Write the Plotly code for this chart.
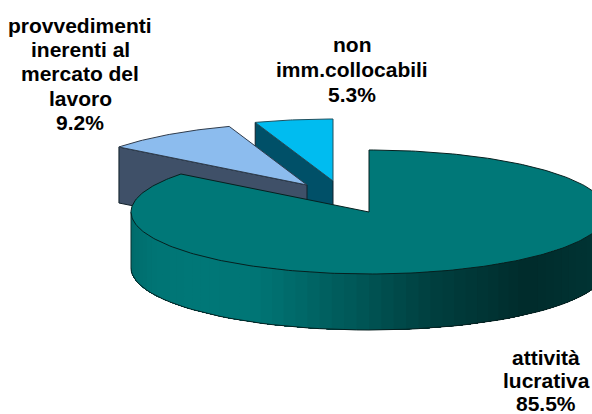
import numpy as np
import plotly.graph_objects as go

# Data
categories = [["attività", "lucrativa"],
              ["provvedimenti", "inerenti al", "mercato del", "lavoro"],
              ["non", "imm.collocabili"]]
shares = [85.5, 9.2, 5.3]

# Styling
top_colors = ["#007878", "#8cbcee", "#00bcf0"]
wall_colors = ["#007878", "#3f5068", "#005068"]
edge = "#10202a"
W, H = 592, 414
RX, RY, DEPTH = 238, 62, 56
apex = [(369, 212), (307, 185), (333, 181)]
label_x = [546, 80, 352]
label_y = [357, 25, 44]
label_step = [23.4, 24.4, 25]
FONT = 21

stops_pos = [0.0, 0.04, 0.13, 0.27, 0.47, 0.65, 0.86, 1.0]
stops_val = [(0, 108, 108), (0, 116, 116), (0, 120, 120), (0, 118, 118),
             (0, 90, 90), (0, 64, 64), (0, 44, 44), (0, 52, 52)]

fig = go.Figure()


def poly(xs, ys, fill, line=edge, width=1):
    fig.add_trace(go.Scatter(x=list(xs), y=list(ys), mode="lines", fill="toself",
                             fillcolor=fill, line=dict(color=line, width=width),
                             hoverinfo="skip", showlegend=False))


# Angles clockwise from 12 o'clock, from the shares
ends = np.cumsum(shares) / sum(shares) * 2 * np.pi
starts = np.concatenate([[0], ends[:-1]])


def arc(i, a0, a1, n=120):
    t = np.linspace(a0, a1, n)
    return apex[i][0] + RX * np.sin(t), apex[i][1] - RY * np.cos(t)


def radial(i, a):
    return apex[i][0] + RX * np.sin(a), apex[i][1] - RY * np.cos(a)


# Slice 3: cut wall then top
x0, y0 = radial(2, starts[2])
poly([x0, apex[2][0], apex[2][0], x0, x0],
     [y0, apex[2][1], apex[2][1] + DEPTH, y0 + DEPTH, y0], wall_colors[2])
ax, ay = arc(2, starts[2], ends[2], 40)
poly([apex[2][0], *ax, apex[2][0]], [apex[2][1], *ay, apex[2][1]], top_colors[2], "#20505f")

# Slice 2: cut wall then top
x0, y0 = radial(1, starts[1])
poly([x0, apex[1][0], apex[1][0], x0, x0],
     [y0, apex[1][1], apex[1][1] + DEPTH, y0 + DEPTH, y0], wall_colors[1])
ax, ay = arc(1, starts[1], ends[1], 40)
poly([apex[1][0], *ax, apex[1][0]], [apex[1][1], *ay, apex[1][1]], top_colors[1], "#303c4c")

# Main slice: outer wall as overlapping strips, painted from the right so no seams show
tt = np.linspace(np.pi * 0.5, np.pi * 1.5, 61)
cx, cy = apex[0]
xs = cx + RX * np.sin(tt)
ys = cy - RY * np.cos(tt)
span_right, span_left = 592.0, cx - RX
for k in range(len(tt) - 1):
    f = np.clip((0.5 * (xs[k] + xs[k + 1]) - span_left) / (span_right - span_left), 0, 1)
    g = int(np.interp(f, stops_pos, [c[1] for c in stops_val]))
    col = f"rgb(0,{g},{g})"
    tail = tt[k:]
    sx = cx + RX * np.sin(tail)
    sy = cy - RY * np.cos(tail)
    fig.add_trace(go.Scatter(x=[*sx, *sx[::-1], sx[0]], y=[*sy, *(sy[::-1] + DEPTH), sy[0]],
                             mode="lines", fill="toself", fillcolor=col,
                             line=dict(width=0, color=col), hoverinfo="skip", showlegend=False))
fig.add_trace(go.Scatter(x=xs, y=ys + DEPTH, mode="lines", line=dict(color="#062020", width=1),
                         hoverinfo="skip", showlegend=False))
fig.add_trace(go.Scatter(x=[xs[-1], xs[-1]], y=[ys[-1], ys[-1] + DEPTH], mode="lines",
                         line=dict(color="#0a3030", width=1), hoverinfo="skip", showlegend=False))

# Main slice: top
ax, ay = arc(0, starts[0], ends[0], 300)
poly([cx, *ax, cx], [cy, *ay, cy], top_colors[0], "#06201f", 1)

# Labels
for i in range(3):
    lines = categories[i] + [f"{shares[i]:.1f}%"]
    for j, txt in enumerate(lines):
        fig.add_annotation(x=label_x[i], y=label_y[i] + j * label_step[i], text=f"<b>{txt}</b>",
                           showarrow=False, xanchor="center", yanchor="middle",
                           font=dict(family="Liberation Sans", size=FONT, color="#000000"))

fig.update_layout(width=W, height=H, margin=dict(l=0, r=0, t=0, b=0),
                  paper_bgcolor="white", plot_bgcolor="white", showlegend=False,
                  xaxis=dict(range=[0, W], visible=False, fixedrange=True),
                  yaxis=dict(range=[H, 0], visible=False, fixedrange=True))

fig.write_html("out.html", config={"displayModeBar": False},
               post_script="document.body.style.margin='0';document.documentElement.style.overflow='hidden';")
